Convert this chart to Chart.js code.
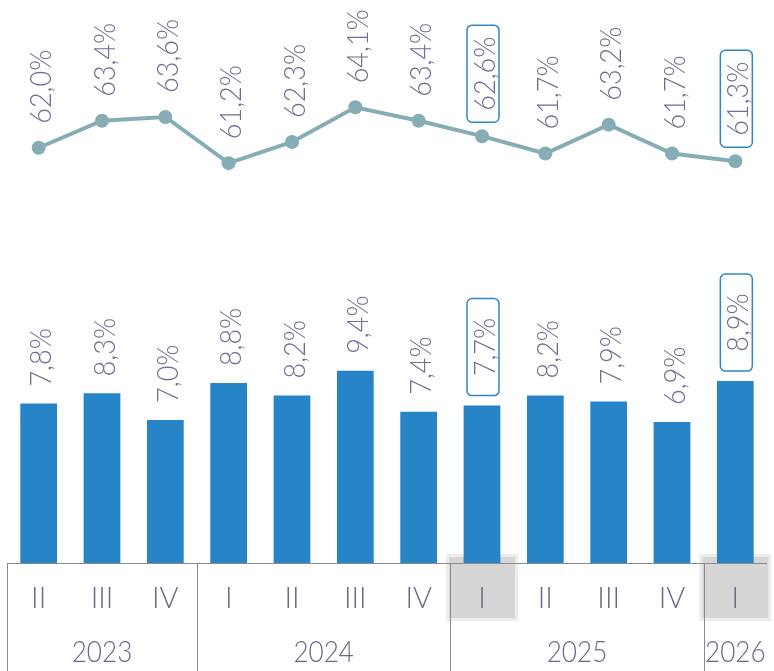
<!DOCTYPE html>
<html>
<head>
<meta charset="utf-8">
<script src="https://cdn.jsdelivr.net/npm/chart.js@4.4.1/dist/chart.umd.min.js"></script>
<style>
  html, body { margin: 0; padding: 0; background: #fff; }
</style>
</head>
<body>
<canvas id="chart" width="774" height="671"></canvas>
<script>
const quarters = ["II", "III", "IV", "I", "II", "III", "IV", "I", "II", "III", "IV", "I"];
const years = ["2023", "2024", "2025", "2026"];
const quartersPerYear = [3, 4, 4, 1];
const shareValues = [62.0, 63.4, 63.6, 61.2, 62.3, 64.1, 63.4, 62.6, 61.7, 63.2, 61.7, 61.3];
const rateValues = [7.8, 8.3, 7.0, 8.8, 8.2, 9.4, 7.4, 7.7, 8.2, 7.9, 6.9, 8.9];
const highlighted = [7, 11];

const textColor = "#736d94";
const axisColor = "#6a6888";
const boxColor = "#2e86c9";
const fontFamily = "Lato, 'Open Sans', sans-serif";

const fmt = (v) => v.toFixed(1).replace(".", ",") + "%";

// rotated value labels, some of them boxed
function drawLabel(ctx, text, x, y, gap, boxGap, boxed) {
  ctx.save();
  ctx.translate(x + 2, y);
  ctx.rotate(-Math.PI / 2);
  ctx.fillStyle = textColor;
  ctx.textBaseline = "middle";
  if (boxed) {
    const len = 97;
    ctx.beginPath();
    ctx.roundRect(boxGap, -17, len, 32, 5);
    ctx.strokeStyle = boxColor;
    ctx.lineWidth = 1.5;
    ctx.stroke();
    ctx.translate(boxGap + len / 2, 0);
    ctx.scale(0.9, 1);
    ctx.font = "300 30px " + fontFamily;
    ctx.textAlign = "center";
    ctx.fillText(text, 0, 1);
  } else {
    ctx.translate(gap, 0);
    ctx.scale(0.9, 1);
    ctx.font = "300 30px " + fontFamily;
    ctx.textAlign = "left";
    ctx.fillText(text, 0, 1);
  }
  ctx.restore();
}

const labelsPlugin = {
  id: "valueLabels",
  afterDatasetsDraw(chart) {
    const ctx = chart.ctx;
    const bars = chart.getDatasetMeta(0).data;
    const points = chart.getDatasetMeta(1).data;
    bars.forEach((bar, i) => {
      drawLabel(ctx, fmt(rateValues[i]), bar.x, bar.y, 17, 10, highlighted.includes(i));
    });
    points.forEach((pt, i) => {
      drawLabel(ctx, fmt(shareValues[i]), pt.x, pt.y, 24, 14, highlighted.includes(i));
    });
  }
};

// table-like category axis with quarters and years
const axisPlugin = {
  id: "quarterAxis",
  beforeDatasetsDraw(chart) {
    const ctx = chart.ctx;
    const x = chart.scales.x;
    const top = chart.chartArea.bottom;
    ctx.save();
    highlighted.forEach((i) => {
      const cx = x.getPixelForValue(i);
      ctx.fillStyle = "#ededed";
      ctx.fillRect(cx - 36, top - 9, 72, 67);
      ctx.fillStyle = "#d6d6d6";
      ctx.fillRect(cx - 33, top - 6, 66, 61);
    });
    ctx.restore();
  },
  afterDraw(chart) {
    const ctx = chart.ctx;
    const x = chart.scales.x;
    const area = chart.chartArea;
    const top = area.bottom;
    const bottom = chart.height;
    ctx.save();
    ctx.strokeStyle = "#8a8a8a";
    ctx.lineWidth = 1;
    ctx.beginPath();
    ctx.moveTo(area.left, top + 0.5);
    ctx.lineTo(area.right, top + 0.5);
    ctx.stroke();

    ctx.fillStyle = axisColor;
    ctx.textAlign = "center";
    ctx.textBaseline = "middle";
    ctx.font = "300 29px " + fontFamily;
    quarters.forEach((q, i) => {
      ctx.fillText(q, x.getPixelForValue(i), top + 36);
    });

    let start = 0;
    years.forEach((yr, k) => {
      const end = start + quartersPerYear[k] - 1;
      const left = start === 0 ? area.left
        : (x.getPixelForValue(start - 1) + x.getPixelForValue(start)) / 2;
      const right = end === quarters.length - 1 ? area.right
        : (x.getPixelForValue(end) + x.getPixelForValue(end + 1)) / 2;
      const lx = Math.round(left) + 0.5;
      ctx.beginPath();
      ctx.moveTo(lx, top);
      ctx.lineTo(lx, bottom);
      ctx.stroke();
      ctx.save();
      ctx.translate((left + right) / 2, top + 90);
      ctx.scale(0.9, 1);
      ctx.font = "300 29px " + fontFamily;
      ctx.fillText(yr, 0, 0);
      ctx.restore();
      start = end + 1;
    });
    ctx.restore();
  }
};

const ctx = document.getElementById("chart").getContext("2d");
new Chart(ctx, {
  type: "bar",
  data: {
    labels: quarters,
    datasets: [
      {
        type: "bar",
        data: rateValues,
        backgroundColor: "#2784c7",
        borderWidth: 0,
        barPercentage: 0.58,
        categoryPercentage: 1,
        yAxisID: "y",
        order: 2
      },
      {
        type: "line",
        data: shareValues,
        borderColor: "#86adb5",
        backgroundColor: "#86adb5",
        borderWidth: 4,
        pointRadius: 7,
        pointBorderWidth: 0,
        pointBackgroundColor: "#86adb5",
        tension: 0,
        clip: false,
        yAxisID: "y2",
        order: 1
      }
    ]
  },
  options: {
    responsive: false,
    animation: false,
    devicePixelRatio: 1,
    layout: { padding: { left: 7, right: 2, top: 0, bottom: 108 } },
    plugins: {
      legend: { display: false },
      tooltip: { enabled: false }
    },
    scales: {
      x: { display: false },
      y: { display: false, min: 0, max: 27.2 },
      y2: { display: false, min: 40.43, max: 69.31 }
    }
  },
  plugins: [axisPlugin, labelsPlugin]
});
</script>
</body>
</html>
